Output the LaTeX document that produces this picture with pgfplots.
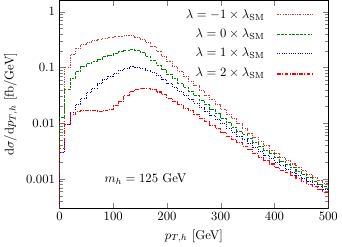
\documentclass[border=0pt]{standalone}
\usepackage{pgfplots}
\pgfplotsset{compat=1.18}
\definecolor{cR1}{RGB}{205,60,60}
\definecolor{cG0}{RGB}{0,128,0}
\definecolor{cB1}{RGB}{0,0,205}
\definecolor{cR2}{RGB}{255,0,0}
\tikzset{
  sR1/.style={draw=cR1, line width=0.8pt, dash pattern=on 1.6pt off 1pt on 0.6pt off 1pt on 0.6pt off 1pt},
  sG0/.style={draw=cG0, line width=0.8pt, dash pattern=on 2pt off 1pt},
  sB1/.style={draw=cB1, line width=0.8pt, dash pattern=on 0.8pt off 1pt},
  sR2/.style={draw=cR2, line width=0.8pt, dash pattern=on 3pt off 1pt on 0.8pt off 1pt},
}
\begin{document}
\begin{tikzpicture}
\begin{axis}[
  scale only axis,
  width=212pt, height=164pt,
  ymode=log,
  xmin=0, xmax=500,
  ymin=3e-4, ymax=1.6,
  xtick={0,100,200,300,400,500},
  ytick={0.001,0.01,0.1,1},
  yticklabels={0.001,0.01,0.1,1},
  minor ytick={3e-4,4e-4,5e-4,6e-4,7e-4,8e-4,9e-4,2e-3,3e-3,4e-3,5e-3,6e-3,7e-3,8e-3,9e-3,0.02,0.03,0.04,0.05,0.06,0.07,0.08,0.09,0.2,0.3,0.4,0.5,0.6,0.7,0.8,0.9},
  tick align=inside,
  xtick pos=both, ytick pos=both,
  xlabel={$p_{T,h}$ [GeV]},
  ylabel={$\mathrm{d}\sigma/\mathrm{d}p_{T,h}$ [fb/GeV]},
  every axis plot/.append style={const plot, no marks},
]
\addplot[sR1] coordinates {
(0,1e-5)(0,0.0100)(10,0.100)(20,0.170)(30,0.219)(40,0.257)(50,0.282)(60,0.302)(70,0.316)(80,0.331)(90,0.339)(100,0.355)(110,0.363)(120,0.372)(130,0.372)(140,0.347)(150,0.316)(160,0.275)(170,0.240)(180,0.195)(190,0.158)(200,0.129)(210,0.105)(220,0.0851)(230,0.0692)(240,0.0562)(250,0.0468)(260,0.0380)(270,0.0316)(280,0.0263)(290,0.0214)(300,0.0178)(310,0.0145)(320,0.0120)(330,0.00977)(340,0.00813)(350,0.00661)(360,0.00562)(370,0.00468)(380,0.00398)(390,0.00331)(400,0.00282)(410,0.00245)(420,0.00214)(430,0.00186)(440,0.00162)(450,0.00141)(460,0.00120)(470,0.00105)(480,0.000933)(490,0.000832)(500,0.000832)(500,1e-5)
};
\addplot[sG0] coordinates {
(0,1e-5)(0,0.0126)(10,0.040)(20,0.063)(30,0.085)(40,0.105)(50,0.118)(60,0.129)(70,0.141)(80,0.155)(90,0.166)(100,0.178)(110,0.191)(120,0.200)(130,0.209)(140,0.204)(150,0.182)(160,0.155)(170,0.132)(180,0.110)(190,0.0912)(200,0.0759)(210,0.0631)(220,0.0525)(230,0.0437)(240,0.0372)(250,0.0309)(260,0.0257)(270,0.0214)(280,0.0178)(290,0.0148)(300,0.0123)(310,0.0102)(320,0.00851)(330,0.00724)(340,0.00617)(350,0.00525)(360,0.00457)(370,0.00389)(380,0.00331)(390,0.00282)(400,0.00240)(410,0.00209)(420,0.00182)(430,0.00158)(440,0.00138)(450,0.00120)(460,0.00105)(470,0.000912)(480,0.000813)(490,0.000724)(500,0.000724)(500,1e-5)
};
\addplot[sB1] coordinates {
(0,1e-5)(0,0.0030)(10,0.0095)(20,0.0158)(30,0.0219)(40,0.0282)(50,0.0355)(60,0.0427)(70,0.0513)(80,0.0603)(90,0.0692)(100,0.0776)(110,0.0891)(120,0.0977)(130,0.102)(140,0.100)(150,0.0955)(160,0.0891)(170,0.0813)(180,0.0708)(190,0.0603)(200,0.0513)(210,0.0437)(220,0.0372)(230,0.0316)(240,0.0269)(250,0.0229)(260,0.0191)(270,0.0162)(280,0.0135)(290,0.0115)(300,0.00977)(310,0.00813)(320,0.00692)(330,0.00589)(340,0.00501)(350,0.00427)(360,0.00363)(370,0.00309)(380,0.00263)(390,0.00229)(400,0.00200)(410,0.00174)(420,0.00151)(430,0.00132)(440,0.00115)(450,0.00102)(460,0.000912)(470,0.000813)(480,0.000724)(490,0.000646)(500,0.000646)(500,1e-5)
};
\addplot[sR2] coordinates {
(0,1e-5)(0,0.00347)(10,0.0095)(20,0.0141)(30,0.0162)(40,0.0170)(50,0.0170)(60,0.0166)(70,0.0162)(80,0.0166)(90,0.0178)(100,0.0204)(110,0.0245)(120,0.0316)(130,0.0372)(140,0.0407)(150,0.0427)(160,0.0427)(170,0.0398)(180,0.0363)(190,0.0324)(200,0.0282)(210,0.0245)(220,0.0214)(230,0.0186)(240,0.0166)(250,0.0145)(260,0.0123)(270,0.0107)(280,0.00912)(290,0.00794)(300,0.00692)(310,0.00589)(320,0.00513)(330,0.00447)(340,0.00389)(350,0.00339)(360,0.00282)(370,0.00245)(380,0.00214)(390,0.00186)(400,0.00162)(410,0.00145)(420,0.00129)(430,0.00115)(440,0.00102)(450,0.000912)(460,0.000813)(470,0.000724)(480,0.000646)(490,0.000575)(500,0.000575)(500,1e-5)
};
% legend samples, drawn through the axis
\addplot[sR1, line width=1.1pt] coordinates {(405,0.88)(470,0.88)};
\addplot[sG0, line width=1.1pt] coordinates {(405,0.391)(470,0.391)};
\addplot[sB1, line width=1.1pt] coordinates {(405,0.178)(470,0.178)};
\addplot[sR2, line width=1.1pt] coordinates {(405,0.0762)(470,0.0762)};
\node[anchor=east] at (axis cs:390,0.859) {$\lambda = -1\times\lambda_{\mathrm{SM}}$};
\node[anchor=east] at (axis cs:390,0.391) {$\lambda = 0\times\lambda_{\mathrm{SM}}$};
\node[anchor=east] at (axis cs:390,0.178) {$\lambda = 1\times\lambda_{\mathrm{SM}}$};
\node[anchor=east] at (axis cs:390,0.078) {$\lambda = 2\times\lambda_{\mathrm{SM}}$};
\node at (axis cs:160,0.001) {$m_h = 125$ GeV};
\end{axis}
\end{tikzpicture}
\end{document}
